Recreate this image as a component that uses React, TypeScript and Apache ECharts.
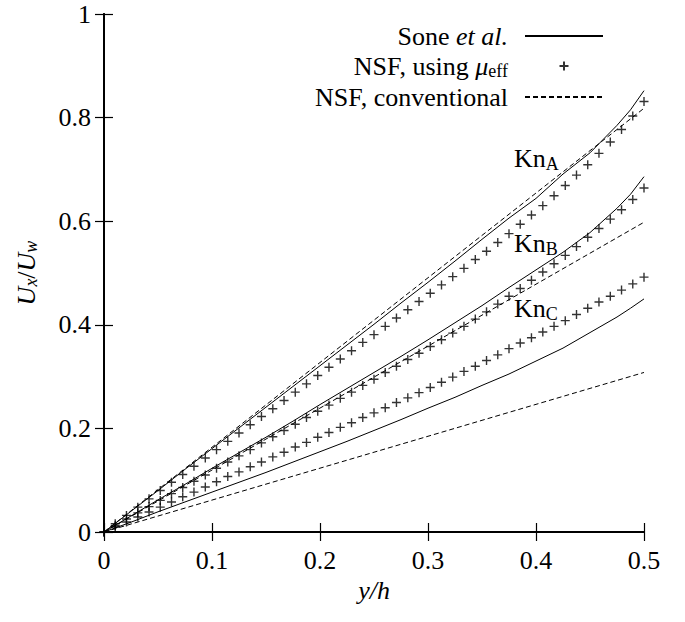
import React, { useEffect, useRef } from 'react';
import * as echarts from 'echarts';

const FONT = '"Liberation Serif", "Times New Roman", Times, serif';

// x positions of the NSF (plus) points
const nsfX = [
  0, 0.0104, 0.0208, 0.0313, 0.0417, 0.0521, 0.0625, 0.0729, 0.0833, 0.0938,
  0.1042, 0.1146, 0.125, 0.1354, 0.1458, 0.1563, 0.1667, 0.1771, 0.1875, 0.1979,
  0.2083, 0.2188, 0.2292, 0.2396, 0.25, 0.2604, 0.2708, 0.2813, 0.2917, 0.3021,
  0.3125, 0.3229, 0.3333, 0.3438, 0.3542, 0.3646, 0.375, 0.3854, 0.3958, 0.4063,
  0.4167, 0.4271, 0.4375, 0.4479, 0.4583, 0.4688, 0.4792, 0.4896, 0.5,
];
const nsfEffA = [
  0, 0.016, 0.032, 0.048, 0.064, 0.08, 0.096, 0.111, 0.127, 0.143,
  0.159, 0.175, 0.191, 0.207, 0.223, 0.238, 0.254, 0.27, 0.286, 0.302,
  0.318, 0.334, 0.35, 0.366, 0.381, 0.397, 0.413, 0.429, 0.445, 0.461,
  0.477, 0.493, 0.509, 0.526, 0.542, 0.559, 0.576, 0.594, 0.612, 0.63,
  0.649, 0.669, 0.689, 0.709, 0.731, 0.753, 0.777, 0.803, 0.831,
];
const nsfEffB = [
  0, 0.012, 0.025, 0.037, 0.049, 0.061, 0.074, 0.086, 0.098, 0.11,
  0.123, 0.135, 0.147, 0.159, 0.172, 0.184, 0.196, 0.208, 0.221, 0.233,
  0.245, 0.258, 0.27, 0.283, 0.295, 0.308, 0.32, 0.333, 0.345, 0.358,
  0.371, 0.384, 0.397, 0.411, 0.425, 0.44, 0.455, 0.47, 0.486, 0.502,
  0.518, 0.534, 0.551, 0.569, 0.586, 0.604, 0.622, 0.642, 0.664,
];
const nsfEffC = [
  0, 0.0097, 0.0194, 0.029, 0.0387, 0.048, 0.058, 0.068, 0.077, 0.087,
  0.097, 0.107, 0.116, 0.126, 0.135, 0.145, 0.154, 0.164, 0.173, 0.183,
  0.192, 0.202, 0.211, 0.221, 0.23, 0.24, 0.25, 0.259, 0.269, 0.279,
  0.289, 0.299, 0.31, 0.32, 0.331, 0.342, 0.354, 0.365, 0.375, 0.386,
  0.397, 0.408, 0.42, 0.432, 0.444, 0.455, 0.467, 0.479, 0.492,
];

// Sone et al. curves
const soneX = [
  0, 0.025, 0.05, 0.075, 0.1, 0.125, 0.15, 0.175, 0.2, 0.225, 0.25,
  0.275, 0.3, 0.325, 0.35, 0.375, 0.4, 0.425, 0.45, 0.475, 0.4875, 0.5,
];
const soneA = [
  0, 0.04, 0.08, 0.121, 0.161, 0.201, 0.241, 0.281, 0.321, 0.361, 0.401,
  0.442, 0.482, 0.523, 0.565, 0.606, 0.644, 0.691, 0.732, 0.785, 0.815, 0.852,
];
const soneB = [
  0, 0.031, 0.062, 0.092, 0.123, 0.153, 0.183, 0.214, 0.246, 0.277, 0.308,
  0.339, 0.371, 0.404, 0.437, 0.472, 0.506, 0.54, 0.578, 0.625, 0.652, 0.686,
];
const soneC = [
  0, 0.019, 0.039, 0.058, 0.077, 0.096, 0.115, 0.135, 0.155, 0.175, 0.196,
  0.217, 0.239, 0.26, 0.283, 0.305, 0.33, 0.355, 0.385, 0.415, 0.432, 0.45,
];

// NSF conventional (straight lines)
const convX = [0, 0.5];
const convA = [0, 0.818];
const convB = [0, 0.598];
const convC = [0, 0.308];

const xTicks = [0, 0.1, 0.2, 0.3, 0.4, 0.5];
const yTicks = [0, 0.2, 0.4, 0.6, 0.8, 1];

const NAME_SONE = 'Sone et al.';
const NAME_EFF = 'NSF, using μeff';
const NAME_CONV = 'NSF, conventional';

const knLabels = ['A', 'B', 'C'];

const zip = (xs: number[], ys: number[]) => xs.map((x, i) => [x, ys[i]]);

const PLUS = 'path://M5,0L5,10M0,5L10,5';

export default function App() {
  const ref = useRef<HTMLDivElement>(null);

  useEffect(() => {
    if (!ref.current) return;
    const chart = echarts.init(ref.current, undefined, { renderer: 'svg' });

    const richBase = {
      n: { fontFamily: FONT, fontSize: 26, color: '#000' },
      i: { fontFamily: FONT, fontSize: 26, color: '#000', fontStyle: 'italic' },
      s: { fontFamily: FONT, fontSize: 18, color: '#000', padding: [10, 0, 0, 0] },
      si: { fontFamily: FONT, fontSize: 18, color: '#000', fontStyle: 'italic', padding: [10, 0, 0, 0] },
    };

    const soneSeries = [soneA, soneB, soneC].map((ys) => ({
      type: 'line',
      name: NAME_SONE,
      data: zip(soneX, ys),
      showSymbol: false,
      symbol: 'none',
      lineStyle: { color: '#000', width: 1 },
      itemStyle: { color: '#000' },
      z: 3,
    }));
    const effSeries = [nsfEffA, nsfEffB, nsfEffC].map((ys) => ({
      type: 'scatter',
      name: NAME_EFF,
      data: zip(nsfX, ys),
      symbol: PLUS,
      symbolSize: 9,
      clip: false,
      itemStyle: { color: 'rgba(0,0,0,0)', borderColor: '#000', borderWidth: 1.4 },
      z: 4,
    }));
    const convSeries = [convA, convB, convC].map((ys) => ({
      type: 'line',
      name: NAME_CONV,
      data: zip(convX, ys),
      showSymbol: false,
      symbol: 'none',
      lineStyle: { color: '#000', width: 1, type: [5, 3] },
      itemStyle: { color: '#000' },
      z: 3,
    }));

    const axisCommon = {
      axisLine: { show: true, lineStyle: { color: '#000', width: 2 } },
      axisTick: { show: true, inside: true, length: 9, lineStyle: { color: '#000', width: 1.2 } },
      splitLine: { show: false },
    };

    chart.setOption({
      animation: false,
      backgroundColor: '#fff',
      grid: { left: 104, right: 41, top: 14, bottom: 90, containLabel: false },
      legend: {
        orient: 'vertical',
        right: 76,
        top: 18,
        align: 'right',
        itemWidth: 78,
        itemHeight: 9,
        itemGap: 4,
        data: [
          { name: NAME_SONE, itemStyle: { opacity: 0 } },
          { name: NAME_EFF },
          { name: NAME_CONV, itemStyle: { opacity: 0 } },
        ],
        textStyle: { fontFamily: FONT, fontSize: 26, color: '#000', padding: [0, 12, 0, 0], rich: richBase },
        formatter: (name: string) => {
          if (name === NAME_SONE) return '{n|Sone }{i|et al.}';
          if (name === NAME_EFF) return '{n|NSF, using }{i|μ}{s|eff}';
          return '{n|NSF, conventional}';
        },
      },
      xAxis: [
        {
          type: 'value',
          min: xTicks[0],
          max: xTicks[xTicks.length - 1],
          interval: 0.1,
          position: 'bottom',
          ...axisCommon,
          axisLabel: { fontFamily: FONT, fontSize: 26, color: '#000', margin: 15 },
          name: 'y/h',
          nameLocation: 'middle',
          nameGap: 44,
          nameTextStyle: { fontFamily: FONT, fontSize: 26, color: '#000', fontStyle: 'italic' },
        },
        {
          type: 'value',
          min: xTicks[0],
          max: xTicks[xTicks.length - 1],
          interval: 0.1,
          position: 'top',
          ...axisCommon,
          axisLabel: { show: false },
        },
      ],
      yAxis: [
        {
          type: 'value',
          min: yTicks[0],
          max: yTicks[yTicks.length - 1],
          interval: 0.2,
          position: 'left',
          ...axisCommon,
          axisLabel: { fontFamily: FONT, fontSize: 26, color: '#000', margin: 13 },
          name: '{i|U}{si|x}{n|/}{i|U}{si|w}',
          nameLocation: 'middle',
          nameRotate: 90,
          nameGap: 64,
          nameTextStyle: { fontFamily: FONT, fontSize: 26, color: '#000', rich: richBase },
        },
        {
          type: 'value',
          min: yTicks[0],
          max: yTicks[yTicks.length - 1],
          interval: 0.2,
          position: 'right',
          ...axisCommon,
          axisLabel: { show: false },
        },
      ],
      graphic: knLabels.map((k, idx) => ({
        type: 'text',
        left: 514,
        top: [145, 230, 295][idx],
        z: 10,
        style: {
          text: 'Kn{s|' + k + '}',
          fontFamily: FONT,
          fontSize: 26,
          fill: '#000',
          rich: {
            s: { fontFamily: FONT, fontSize: 18, fill: '#000', padding: [12, 0, 0, 0] },
          },
        },
      })),
      series: [...soneSeries, ...effSeries, ...convSeries],
    });

    return () => chart.dispose();
  }, []);

  return (
    <div
      ref={ref}
      style={{ position: 'fixed', left: 0, top: 0, width: 685, height: 622, background: '#fff' }}
    />
  );
}
